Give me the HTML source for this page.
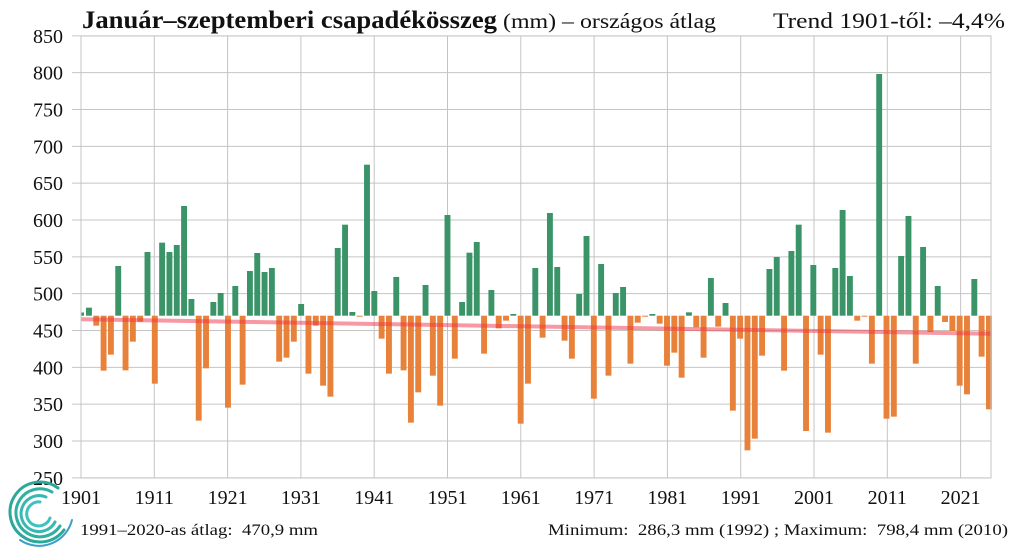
<!DOCTYPE html>
<html><head><meta charset="utf-8"><style>
html,body{margin:0;padding:0;background:#fff;width:1020px;height:549px;overflow:hidden}
svg{display:block}
text{font-family:"Liberation Serif",serif;fill:#111}
</style></head><body>
<svg id="s" width="1020" height="549" xmlns="http://www.w3.org/2000/svg">
<text x="82" y="28" font-size="25" font-weight="bold" textLength="415" lengthAdjust="spacingAndGlyphs">Január–szeptemberi csapadékösszeg</text>
<text x="503" y="28" font-size="21" textLength="213" lengthAdjust="spacingAndGlyphs">(mm) – országos átlag</text>
<text x="773" y="28" font-size="22" textLength="232" lengthAdjust="spacingAndGlyphs">Trend 1901-től: –4,4%</text>
<g id="grid" stroke="#c4c4c4" stroke-width="1"></g>
<g id="bars"></g>
<line x1="81" y1="319.3" x2="991" y2="333.7" stroke="rgb(240,50,70)" stroke-opacity="0.5" stroke-width="4"/>
<rect x="81" y="36" width="910" height="442" fill="none" stroke="#c4c4c4"/>
<g id="lbl" font-size="20"></g>
<text x="80" y="535" font-size="16" textLength="238" lengthAdjust="spacingAndGlyphs" xml:space="preserve">1991–2020-as átlag:  470,9 mm</text>
<text x="548" y="535" font-size="16" textLength="460" lengthAdjust="spacingAndGlyphs" xml:space="preserve">Minimum:  286,3 mm (1992) ; Maximum:  798,4 mm (2010)</text>
<g fill="none" stroke-linecap="round">
<path d="M 58 488 A 30 30 0 1 0 64 530" stroke="#2aa89a" stroke-width="3"/>
<path d="M 52 492 A 24 24 0 1 0 60 526" stroke="#30b0a0" stroke-width="3"/>
<path d="M 46 497 A 18 18 0 1 0 55 522" stroke="#38b8b0" stroke-width="3"/>
<path d="M 40 502 A 12 12 0 1 0 50 518" stroke="#40c0c0" stroke-width="3"/>
<path d="M 20 540 A 34 34 0 0 0 72 520" stroke="#3aa0c8" stroke-width="2"/>
</g>
</svg>
<script>
var NS="http://www.w3.org/2000/svg",s=document.getElementById('s');
function el(p,t,a){var e=document.createElementNS(NS,t);for(var k in a)e.setAttribute(k,a[k]);p.appendChild(e);return e;}
var g=document.getElementById('grid'),b=document.getElementById('bars'),l=document.getElementById('lbl');
for(var v=250;v<=850;v+=50){var y=220+(600-v)*0.7367;el(g,'line',{x1:72,x2:991,y1:y,y2:y});var t=el(l,'text',{x:63,y:y+7,'text-anchor':'end'});t.textContent=v;}
for(var j=0;j<13;j++){var x=81+73.3*j;el(g,'line',{x1:x,x2:x,y1:36,y2:478});var t=el(l,'text',{x:x,y:504,'text-anchor':'middle'});t.textContent=1901+10*j;}
var Z=[353,407,542,494,228,541,455,395,186,581,158,186,165,48,327,692,535,336,309,653,288,584,243,189,246,234,515,503,455,342,551,407,587,620,174,104,366,380,-76,303,
446,551,261,541,698,607,285,557,647,75,506,336,188,156,491,300,415,392,372,701,581,234,443,69,231,452,506,312,138,626,222,557,309,291,521,398,380,372,401,527,488,563,
367,412,503,264,410,339,662,446,781,746,497,237,201,542,183,104,723,225,494,728,234,60,258,392,379,521,-348,686,680,198,78,521,171,426,288,396,423,587,613,267,500,658];
var base=315.7;
el(b,'rect',{x:81,y:312.5,width:3,height:3.2,fill:'#3a9468'});
for(var k=0;k<Z.length;k++){var y=190+Z[k]/3,x=86+7.317*k;
 if(y<base)el(b,'rect',{x:x,y:y,width:5.9,height:base-y,fill:'#3a9468'});
 else el(b,'rect',{x:x,y:base,width:5.9,height:Math.max(y-base,1),fill:'#e8823a'});}
</script>
</body></html>
